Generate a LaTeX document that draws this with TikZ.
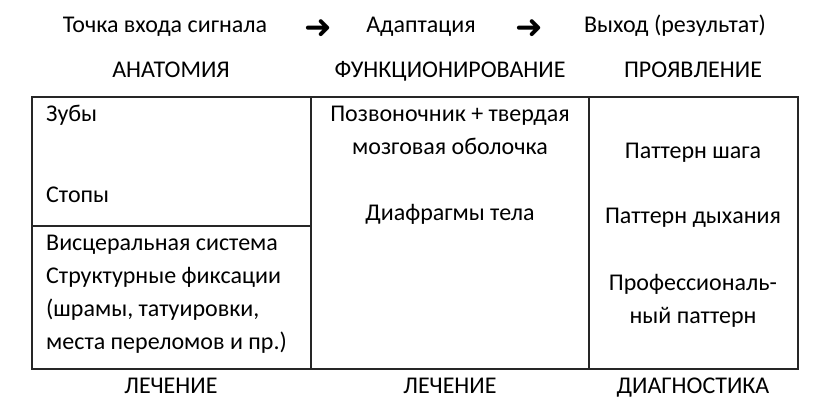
\documentclass[tikz,border=0pt]{standalone}
\usepackage{fontspec}
\setmainfont{Carlito}
\newfontfamily\arrowfont{DejaVu Sans}
\usepackage{tikz}
\usepackage{xcolor}
\tikzset{every node/.style={font=\fontsize{24}{28}\selectfont, inner sep=0pt, anchor=base},
 lefttext/.style={anchor=base west},
 arrowglyph/.style={font=\arrowfont\bfseries\fontsize{33}{34}\selectfont, anchor=center},
 grid line/.style={draw=black!85, line width=1.3pt},
 }

\begin{document}
\begin{tikzpicture}[x=1pt,y=-1pt]
        \useasboundingbox (0,0) rectangle (830,417);
        % top row
        \node (tochka) at (165,33) {Точка входа сигнала};
        \node[arrowglyph] (arrA) at (318,29) {➜};
        \node (adapt) at (421,33) {Адаптация};
        \node[arrowglyph] (arrB) at (529,29) {➜};
        \node (vyhod) at (675,33) {Выход (результат)};
        % column heads
        \node (anat) at (171,78) {АНАТОМИЯ};
        \node (funk) at (450,78) {ФУНКЦИОНИРОВАНИЕ};
        \node (proyav) at (693,78) {ПРОЯВЛЕНИЕ};
        % table
        \draw[grid line] (32,97) rectangle (798,369);
        \draw[grid line] (311,97) -- (311,369);
        \draw[grid line] (589,97) -- (589,369);
        \draw[grid line] (32,226) -- (311,226);
        % left column
        \node[lefttext] (zuby) at (46,122) {Зубы};
        \node[lefttext] (stopy) at (46,202) {Стопы};
        \node[lefttext] (visc) at (46,250) {Висцеральная система};
        \node[lefttext] (struk) at (46,283) {Структурные фиксации};
        \node[lefttext] (shramy) at (46,316) {(шрамы, татуировки,};
        \node[lefttext] (mesta) at (46,349) {места переломов и пр.)};
        % middle column
        \node (pozv) at (450,122) {Позвоночник + твердая};
        \node (mozg) at (450,155) {мозговая оболочка};
        \node (diafr) at (450,220) {Диафрагмы тела};
        % right column
        \node (shag) at (693,158) {Паттерн шага};
        \node (dyh) at (693,223) {Паттерн дыхания};
        \node (prof) at (693,290) {Профессиональ-};
        \node (prof2) at (693,323) {ный паттерн};
        % bottom row
        \node (lech1) at (171,393) {ЛЕЧЕНИЕ};
        \node (lech2) at (450,393) {ЛЕЧЕНИЕ};
        \node (diag) at (693,393) {ДИАГНОСТИКА};
    \end{tikzpicture}
\end{document}
